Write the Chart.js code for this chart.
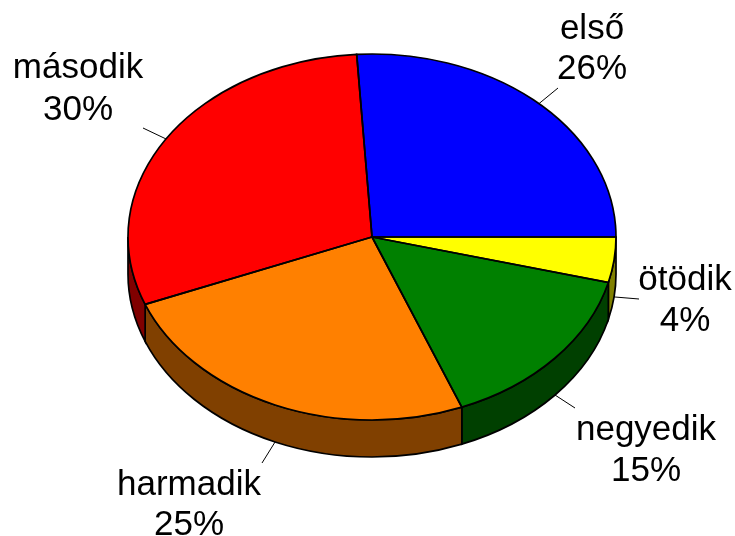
<!DOCTYPE html>
<html>
<head>
<meta charset="utf-8">
<style>html,body{margin:0;padding:0;background:#fff}#w{width:735px;height:536px}</style>
<script src="https://cdn.jsdelivr.net/npm/chart.js@4/dist/chart.umd.min.js"></script>
</head>
<body>
<div id="w"><canvas id="c" width="735" height="536"></canvas></div>
<script>
const categories = ['első', 'ötödik', 'negyedik', 'harmadik', 'második'];
const shares = [26, 4, 15, 25, 30];
const topColors = ['#0000ff', '#ffff00', '#008000', '#ff8000', '#ff0000'];
const wallColors = ['#000080', '#808000', '#004000', '#804000', '#800000'];
const percentLabels = ['26%', '4%', '15%', '25%', '30%'];

// presentation only: where the pie and its labels sit on the page
const pieCentre = {x: 372, y: 237};
const squash = 183 / 244;
const depth = 37;
const labelCentreX = [592, 685, 646, 189, 78];
const nameBaseY = [39, 290, 440, 495, 78];
const percentBaseY = [79, 331, 481, 535, 120];
const leaderEndX = [558, 639, 575, 262, 143];
const leaderEndY = [88, 299, 408, 463, 128];
const outlineWidth = 1.7;

function ellipsePath(ctx, r, from, to, dy, ccw) {
  ctx.ellipse(pieCentre.x, pieCentre.y + dy, r, r * squash, 0, from, to, ccw);
}

const pie3d = {
  id: 'pie3d',
  beforeDatasetsDraw(chart) {
    const ctx = chart.ctx;
    const arcs = chart.getDatasetMeta(0).data;
    const r = arcs[0].outerRadius;
    arcs.forEach((arc, i) => {
      const norm = a => { let v = a % (2 * Math.PI); return v < 0 ? v + 2 * Math.PI : v; };
      let s = norm(arc.startAngle), e = s + (arc.endAngle - arc.startAngle);
      const from = Math.max(s, 0), to = Math.min(e, Math.PI);
      if (to <= from) return;
      ctx.save();
      ctx.beginPath();
      ellipsePath(ctx, r, from, to, 0, false);
      ellipsePath(ctx, r, to, from, depth, true);
      ctx.closePath();
      ctx.fillStyle = wallColors[i];
      ctx.fill();
      ctx.strokeStyle = '#000';
      ctx.lineWidth = outlineWidth;
      ctx.stroke();
      ctx.restore();
    });
    ctx.save();
    ctx.translate(pieCentre.x, pieCentre.y);
    ctx.scale(1, squash);
    ctx.translate(-arcs[0].x, -arcs[0].y);
  },
  afterDatasetsDraw(chart) {
    const ctx = chart.ctx;
    ctx.restore();
    const arcs = chart.getDatasetMeta(0).data;
    const r = arcs[0].outerRadius;
    // slice outlines at an even line width
    arcs.forEach(arc => {
      ctx.beginPath();
      ctx.moveTo(pieCentre.x, pieCentre.y);
      ellipsePath(ctx, r, arc.startAngle, arc.endAngle, 0, false);
      ctx.closePath();
      ctx.strokeStyle = '#000';
      ctx.lineWidth = outlineWidth;
      ctx.stroke();
    });
    // leader lines and labels
    arcs.forEach((arc, i) => {
      const mid = (arc.startAngle + arc.endAngle) / 2;
      const sx = pieCentre.x + r * Math.cos(mid);
      let sy = pieCentre.y + r * squash * Math.sin(mid);
      if (Math.sin(mid) > 0) sy += depth;
      ctx.beginPath();
      ctx.moveTo(sx, sy);
      ctx.lineTo(leaderEndX[i], leaderEndY[i]);
      ctx.strokeStyle = '#000';
      ctx.lineWidth = 1;
      ctx.stroke();
      ctx.fillStyle = '#000';
      ctx.font = '35px "Liberation Sans"';
      ctx.textAlign = 'center';
      ctx.textBaseline = 'alphabetic';
      ctx.fillText(categories[i], labelCentreX[i], nameBaseY[i]);
      ctx.fillText(percentLabels[i], labelCentreX[i], percentBaseY[i]);
    });
  }
};

new Chart(document.getElementById('c'), {
  type: 'pie',
  data: {
    labels: categories,
    datasets: [{
      data: shares,
      backgroundColor: topColors,
      borderWidth: 0,
      clip: false
    }]
  },
  options: {
    responsive: false,
    animation: false,
    rotation: -3.6,
    layout: {padding: {left: 128, right: 119, top: 24, bottom: 24}},
    plugins: {legend: {display: false}, tooltip: {enabled: false}, title: {display: false}}
  },
  plugins: [pie3d]
});
</script>
</body>
</html>
